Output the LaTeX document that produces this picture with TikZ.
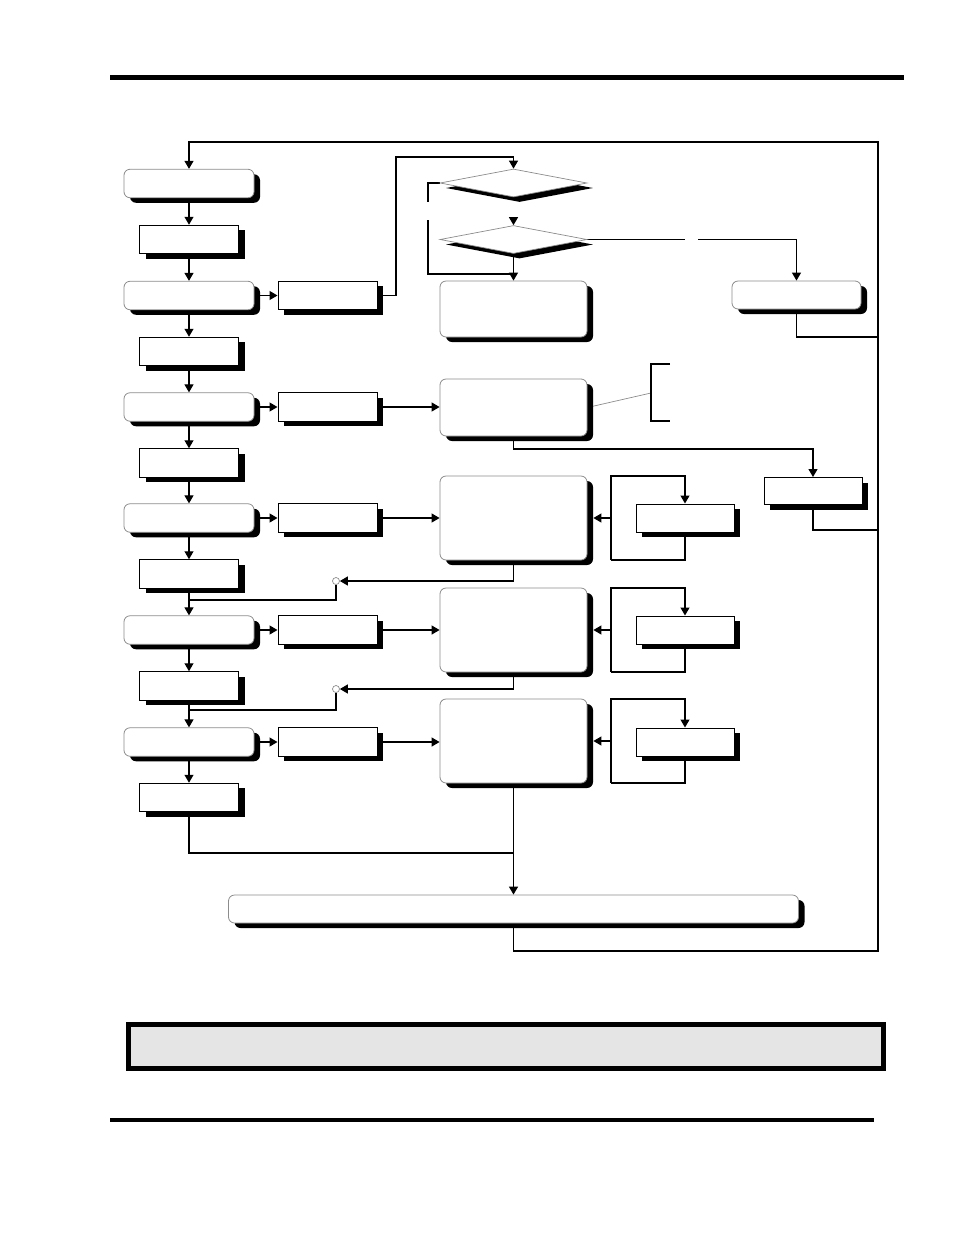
\documentclass[tikz,border=0pt]{standalone}
\usetikzlibrary{arrows.meta,shapes.geometric,shadows,backgrounds}
\definecolor{panelgray}{RGB}{229,229,229}
\definecolor{edgegray}{RGB}{140,140,140}
\tikzset{
  conn/.style={line width=1.2pt, draw=black},
  arr/.style={conn, -{Triangle[length=8pt,width=9pt]}},
  shad/.style={drop shadow={shadow xshift=6pt,shadow yshift=-5pt,fill=black,opacity=1}},
  rbox/.style={rectangle, rounded corners=6pt, draw=edgegray, line width=0.8pt, fill=white, inner sep=0pt, shad},
  sbox/.style={rectangle, draw=black, line width=1pt, fill=white, inner sep=0pt, shad},
  dia/.style={diamond, draw=edgegray, line width=0.7pt, fill=white, inner sep=0pt, shad, minimum width=147pt, minimum height=28pt},
  junc/.style={circle, draw=edgegray, fill=white, minimum size=7pt, inner sep=0pt, line width=0.7pt},
  abox/.style={rbox, minimum width=130pt, minimum height=28.5pt},
  bbox/.style={sbox, minimum width=99pt, minimum height=28.5pt},
  cbox/.style={sbox, minimum width=99pt, minimum height=28.5pt},
  hbox/.style={sbox, minimum width=98pt, minimum height=28pt},
  ebox/.style={rbox, minimum width=147pt},
}
\begin{document}
\begin{tikzpicture}[x=1pt,y=-1pt]
\useasboundingbox (0,0) rectangle (954,1235);
% rules and panel
\draw[line width=5pt] (110,77.5) -- (904,77.5);
\draw[line width=4pt] (110,1120) -- (874,1120);
\draw[line width=5pt, fill=panelgray] (128.5,1024.5) rectangle (883.5,1068.5);

% left column
\node[abox] (A1) at (189,183.5) {};
\node[bbox] (B1) at (189,239.5) {};
\node[abox] (A2) at (189,295.5) {};
\node[bbox] (B2) at (189,351.5) {};
\node[abox] (A3) at (189,407) {};
\node[bbox] (B3) at (189,463) {};
\node[abox] (A4) at (189,518) {};
\node[bbox] (B4) at (189,574) {};
\node[abox] (A5) at (189,630) {};
\node[bbox] (B5) at (189,686) {};
\node[abox] (A6) at (189,742) {};
\node[bbox] (B6) at (189,797.5) {};
% second column
\node[cbox] (C2) at (327.5,295.5) {};
\node[cbox] (C3) at (327.5,407) {};
\node[cbox] (C4) at (327.5,518) {};
\node[cbox] (C5) at (327.5,630) {};
\node[cbox] (C6) at (327.5,742) {};
% central column
\node[dia] (D1) at (513.5,183) {};
\node[dia] (D2) at (513.5,239.5) {};
\node[ebox, minimum height=56pt] (E2) at (513.5,309) {};
\node[ebox, minimum height=57pt] (E3) at (513.5,407.5) {};
\node[ebox, minimum height=84pt] (E4) at (513.5,518) {};
\node[ebox, minimum height=84pt] (E5) at (513.5,630) {};
\node[ebox, minimum height=84pt] (E6) at (513.5,741) {};
% right side
\node[hbox] (H4) at (685,518) {};
\node[hbox] (H5) at (685,630) {};
\node[hbox] (H6) at (685,742) {};
\node[rbox, minimum width=129pt, minimum height=28pt] (F) at (796.5,295) {};
\node[sbox, minimum width=98pt, minimum height=27pt] (G) at (813,491) {};
\node[rbox, minimum width=570pt, minimum height=28pt] (R) at (513.5,909) {};
% junctions
\node[junc] (K4) at (336,581) {};
\node[junc] (K5) at (336,689) {};
\coordinate (brk) at (651,393);

\begin{pgfonlayer}{background}
% trunk
\draw[arr] (A1.south) -- (B1.north);
\draw[arr] (B1.south) -- (A2.north);
\draw[arr] (A2.south) -- (B2.north);
\draw[arr] (B2.south) -- (A3.north);
\draw[arr] (A3.south) -- (B3.north);
\draw[arr] (B3.south) -- (A4.north);
\draw[arr] (A4.south) -- (B4.north);
\draw[arr] (B4.south) -- (A5.north);
\draw[arr] (A5.south) -- (B5.north);
\draw[arr] (B5.south) -- (A6.north);
\draw[arr] (A6.south) -- (B6.north);
% A -> C
\draw[arr] (A2.east) -- (C2.west);
\draw[arr] (A3.east) -- (C3.west);
\draw[arr] (A4.east) -- (C4.west);
\draw[arr] (A5.east) -- (C5.west);
\draw[arr] (A6.east) -- (C6.west);
% C -> E
\draw[arr] (C3.east) -- (C3.east -| E3.west);
\draw[arr] (C4.east) -- (C4.east -| E4.west);
\draw[arr] (C5.east) -- (C5.east -| E5.west);
\draw[arr] (C6.east) -- (C6.east -| E6.west);
% C2 up to diamonds
\draw[arr] (C2.east) -| (396,157) -| (D1.north);
\draw[conn] (D1.west) -| (428,202);
\draw[conn] (428,220) |- (513.5,274);
\draw[arr] (513.5,217) -- (D2.north);
\draw[arr] (D2.south) -- (E2.north);
\draw[conn] (D2.east) -- (685,239.5);
\draw[arr] (698,239.5) -| (F.north);
\draw[conn] (F.south) |- (878,337);
% E3 bracket and branch to G
\draw[edgegray, line width=0.7pt] (E3.east) -- (brk);
\draw[conn] (670,364) -- (651,364) -- (651,421) -- (670,421);
\draw[arr] (E3.south) -- (513.5,449) -| (G.north);
\draw[conn] (G.south) |- (878,530);
% H loops
\draw[arr] (611,560) -- (611,476) -| (H4.north);
\draw[conn] (H4.south) |- (611,560);
\draw[arr] (611,518) -- ([xshift=6pt]E4.east);
\draw[arr] (611,672) -- (611,588) -| (H5.north);
\draw[conn] (H5.south) |- (611,672);
\draw[arr] (611,630) -- ([xshift=6pt]E5.east);
\draw[arr] (611,783) -- (611,699) -| (H6.north);
\draw[conn] (H6.south) |- (611,783);
\draw[arr] (611,741) -- ([xshift=6pt]E6.east);
% returns via junctions
\draw[arr] (E4.south) |- (K4.east);
\draw[conn] (K4.south) |- (189,600);
\draw[arr] (E5.south) |- (K5.east);
\draw[conn] (K5.south) |- (189,710);
% to the final box
\draw[conn] (B6.south) |- (513.5,853);
\draw[arr] (E6.south) -- (R.north);
% big loop
\draw[arr] (R.south) |- (878,951) |- (189,142) -- (A1.north);
\end{pgfonlayer}
\end{tikzpicture}
\end{document}
